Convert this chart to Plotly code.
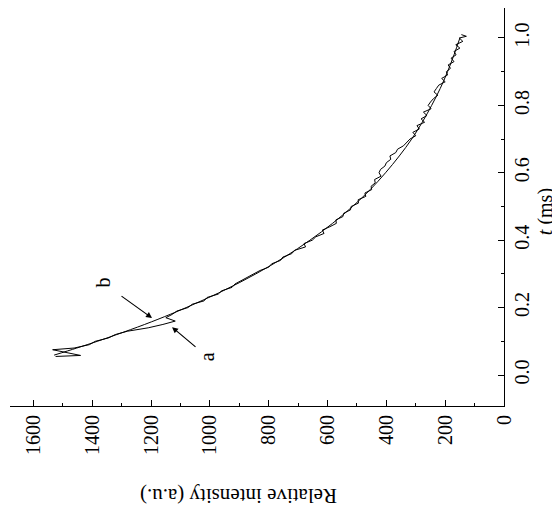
import plotly.graph_objects as go

# ---- data ----
# fitted curve "b" (smooth)
fit_t = [0.059, 0.08, 0.10, 0.12, 0.15, 0.18, 0.20, 0.25, 0.30, 0.35, 0.40, 0.45, 0.50,
         0.55, 0.60, 0.65, 0.70, 0.75, 0.80, 0.85, 0.90, 0.95, 1.00]
fit_I = [1530, 1453, 1383, 1317, 1222, 1135, 1081, 955, 844, 746, 660, 583, 515,
         455, 403, 356, 314, 278, 246, 217, 192, 170, 150]

# measured curve "a" (noisy)
meas_t = [0.055, 0.058, 0.075, 0.08, 0.09, 0.10, 0.11, 0.12, 0.13, 0.135, 0.14, 0.15, 0.16,
          0.17, 0.18, 0.19, 0.20, 0.21, 0.22, 0.23, 0.24, 0.25, 0.26, 0.27, 0.28, 0.29,
          0.30, 0.31, 0.32, 0.33, 0.34, 0.35, 0.36, 0.37, 0.38, 0.39, 0.40, 0.41, 0.42,
          0.43, 0.44, 0.45, 0.46, 0.47, 0.48, 0.49, 0.50, 0.51, 0.52, 0.53, 0.54, 0.55,
          0.56, 0.57, 0.58, 0.59, 0.60, 0.61, 0.62, 0.63, 0.64, 0.65, 0.66, 0.67, 0.68,
          0.69, 0.70, 0.71, 0.72, 0.73, 0.74, 0.75, 0.76, 0.77, 0.78, 0.79, 0.80, 0.81,
          0.82, 0.83, 0.84, 0.85, 0.86, 0.87, 0.88, 0.89, 0.90, 0.91, 0.92, 0.93, 0.94,
          0.95, 0.96, 0.97, 0.98, 0.99, 1.00, 1.005, 1.01]
meas_I = [1525, 1440, 1535, 1462, 1410, 1390, 1345, 1322, 1280, 1245, 1210, 1160, 1118,
          1150, 1128, 1112, 1075, 1060, 1020, 1010, 972, 960, 925, 915, 895, 872,
          852, 830, 800, 790, 760, 752, 722, 712, 675, 680, 652, 640, 612,
          618, 592, 570, 572, 548, 545, 522, 520, 495, 496, 470, 473, 450,
          452, 438, 440, 418, 425, 420, 405, 400, 385, 388, 368, 362, 342,
          332, 320, 300, 310, 288, 296, 270, 282, 262, 274, 248, 258, 250,
          240, 225, 238, 230, 222, 200, 212, 192, 196, 182, 190, 170, 180,
          163, 170, 150, 164, 140, 152, 128, 145]

I_ticks = [0, 200, 400, 600, 800, 1000, 1200, 1400, 1600]
t_ticks = [0.0, 0.2, 0.4, 0.6, 0.8, 1.0]

SERIF = "Liberation Serif"

fig = go.Figure()
fig.add_trace(go.Scatter(x=meas_I, y=meas_t, mode="lines",
                         line=dict(color="black", width=1), showlegend=False))
fig.add_trace(go.Scatter(x=fit_I, y=fit_t, mode="lines",
                         line=dict(color="black", width=1, shape="spline"), showlegend=False))

fig.update_layout(
    width=552, height=501,
    margin=dict(l=2, r=56, t=0, b=103),
    paper_bgcolor="white", plot_bgcolor="white",
    font=dict(family=SERIF, size=20, color="black"),
    xaxis=dict(range=[1680, 0], tickvals=I_ticks, ticks="inside", ticklen=6,
               tickwidth=1, tickcolor="black", tickangle=-90,
               showline=True, linecolor="black", linewidth=1, mirror=False,
               showgrid=False, zeroline=False, ticklabelstandoff=0,
               minor=dict(dtick=100, ticks="inside", ticklen=3, tickcolor="black", showgrid=False),
               tickfont=dict(family=SERIF, size=20)),
    yaxis=dict(range=[-0.092, 1.089], tickvals=t_ticks, tickformat=".1f", side="right",
               ticks="inside", ticklen=6, tickwidth=1, tickcolor="black", tickangle=-90,
               showline=True, linecolor="black", linewidth=1, mirror=False,
               showgrid=False, zeroline=False, ticklabelstandoff=0,
               minor=dict(dtick=0.1, ticks="inside", ticklen=3, tickcolor="black", showgrid=False),
               tickfont=dict(family=SERIF, size=20)),
)

# axis titles (rotated like the reference)
fig.add_annotation(text="Relative intensity (a.u.)", xref="paper", yref="paper",
                   x=0.4636, y=-0.2245, showarrow=False, textangle=180,
                   font=dict(family=SERIF, size=21), xanchor="center", yanchor="middle")
fig.add_annotation(text="<i>t</i> (ms)", xref="paper", yref="paper",
                   x=1.083, y=0.487, showarrow=False, textangle=-90,
                   font=dict(family=SERIF, size=20), xanchor="center", yanchor="middle")

# arrows and labels
fig.add_annotation(x=1197, y=0.169, xref="x", yref="y", text="", showarrow=True,
                   ax=-32, ay=-23, arrowhead=2, arrowsize=1, arrowwidth=1.2,
                   arrowcolor="black", standoff=0)
fig.add_annotation(x=1129, y=0.142, xref="x", yref="y", text="", showarrow=True,
                   ax=25, ay=21, arrowhead=2, arrowsize=1, arrowwidth=1.2,
                   arrowcolor="black", standoff=0)
fig.add_annotation(x=1365, y=0.273, xref="x", yref="y", text="b", showarrow=False,
                   textangle=-90, font=dict(family=SERIF, size=20))
fig.add_annotation(x=1010, y=0.053, xref="x", yref="y", text="a", showarrow=False,
                   textangle=-90, font=dict(family=SERIF, size=20))

fig.write_html("out.html")
